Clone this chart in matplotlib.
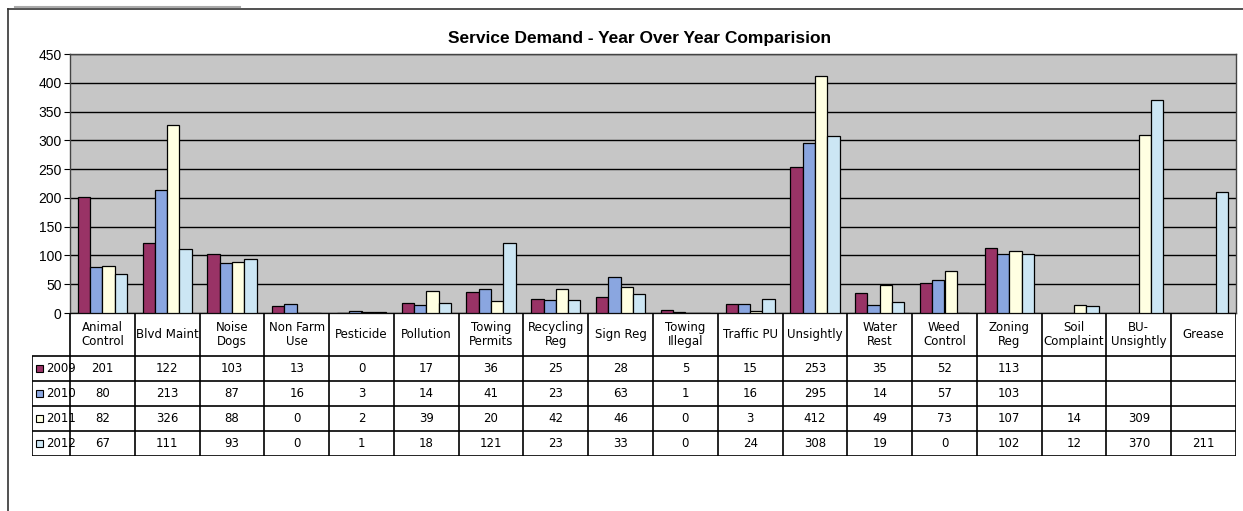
import numpy as np
import matplotlib
matplotlib.use("Agg")
import matplotlib.pyplot as plt
from matplotlib.lines import Line2D
from matplotlib.patches import Rectangle

plt.rcParams['font.family'] = ['Liberation Sans Narrow', 'DejaVu Sans Condensed', 'DejaVu Sans']

categories = ["Animal\nControl", "Blvd Maint", "Noise\nDogs", "Non Farm\nUse", "Pesticide",
              "Pollution", "Towing\nPermits", "Recycling\nReg", "Sign Reg", "Towing\nIllegal",
              "Traffic PU", "Unsightly", "Water\nRest", "Weed\nControl", "Zoning\nReg",
              "Soil\nComplaint", "BU-\nUnsightly", "Grease"]
years = ["2009", "2010", "2011", "2012"]
nan = np.nan
v2009 = [201, 122, 103, 13, 0, 17, 36, 25, 28, 5, 15, 253, 35, 52, 113, nan, nan, nan]
v2010 = [80, 213, 87, 16, 3, 14, 41, 23, 63, 1, 16, 295, 14, 57, 103, nan, nan, nan]
v2011 = [82, 326, 88, 0, 2, 39, 20, 42, 46, 0, 3, 412, 49, 73, 107, 14, 309, nan]
v2012 = [67, 111, 93, 0, 1, 18, 121, 23, 33, 0, 24, 308, 19, 0, 102, 12, 370, 211]
series = [v2009, v2010, v2011, v2012]
colors = ["#993366", "#8aa6e0", "#ffffe2", "#cce6f4"]

W, H = 1243, 511
fig = plt.figure(figsize=(W / 100, H / 100), dpi=100)

# plot area in pixels
px_left, px_right, px_top, px_bottom = 70, 1236, 54, 313
tab_left, tab_bottom = 32, 456

ax = fig.add_axes([px_left / W, 1 - px_bottom / H, (px_right - px_left) / W, (px_bottom - px_top) / H])
ax.set_facecolor("#c6c6c6")
n = len(categories)
x = np.arange(n)
bw = 0.19
for k, vals in enumerate(series):
    ax.bar(x + (k - 1.5) * bw, np.array(vals, dtype=float), bw, color=colors[k],
           edgecolor="black", linewidth=0.9, zorder=3)
ax.set_xlim(-0.5, n - 0.5)
ax.set_ylim(0, 450)
ax.set_yticks(np.arange(0, 451, 50))
ax.yaxis.grid(True, color="black", linewidth=1.0, zorder=1)
ax.set_axisbelow(True)
ax.set_xticks([])
ax.tick_params(axis="y", labelsize=10, length=4, direction="out", pad=2)
for lab in ax.get_yticklabels():
    lab.set_family(["Liberation Sans", "DejaVu Sans"])
for s in ax.spines.values():
    s.set_color("#444444")
    s.set_linewidth(1.0)
fig.text(640 / W, 1 - 38 / H, "Service Demand - Year Over Year Comparision", fontsize=12.5,
         fontweight="bold", family=["Liberation Sans", "DejaVu Sans"], ha="center", va="center")

# data table under the bars
unit = (px_right - px_left) / n
lab_w = (px_left - tab_left) / unit
tax = fig.add_axes([tab_left / W, 1 - tab_bottom / H, (px_right - tab_left) / W, (tab_bottom - px_bottom) / H])
tax.set_xlim(-0.5 - lab_w, n - 0.5)
tab_h = tab_bottom - px_bottom
tax.set_ylim(tab_h, 0)
tax.axis("off")

row_edges = [0, 43, 68, 93, 118, tab_h]
lk = dict(color="black", linewidth=1.2, solid_capstyle="butt")
tax.plot([-0.5, n - 0.5], [0, 0], **lk)
for yy in row_edges[1:]:
    tax.plot([-0.5 - lab_w, n - 0.5], [yy, yy], **lk)
tax.plot([-0.5 - lab_w] * 2, [row_edges[1], tab_h], **lk)
for i in range(n + 1):
    tax.plot([i - 0.5] * 2, [0, tab_h], **lk)

for i, c in enumerate(categories):
    tax.text(i, row_edges[1] / 2, c, ha="center", va="center", fontsize=8.5, linespacing=1.05)

for k, vals in enumerate(series):
    yc = (row_edges[k + 1] + row_edges[k + 2]) / 2
    x0 = -0.5 - lab_w
    tax.add_patch(Rectangle((x0 + 0.06, yc - 3.5), 0.11, 7, facecolor=colors[k],
                            edgecolor="black", linewidth=0.8, clip_on=False))
    tax.text(x0 + 0.22, yc, years[k], ha="left", va="center", fontsize=8.5)
    for i, v in enumerate(vals):
        if not np.isnan(v):
            tax.text(i, yc, str(int(v)), ha="center", va="center", fontsize=8.5)

# outer frame of the scanned chart
fig.add_artist(Line2D([8 / W, 8 / W], [0, 1 - 9 / H], color="#333333", linewidth=1.2))
fig.add_artist(Line2D([8 / W, 1], [1 - 9 / H, 1 - 9 / H], color="#333333", linewidth=1.2))
fig.add_artist(Line2D([15 / W, 240 / W], [1 - 7 / H, 1 - 7 / H], color="#aaaaaa", linewidth=1.5))

fig.savefig("out.png", dpi=100)
